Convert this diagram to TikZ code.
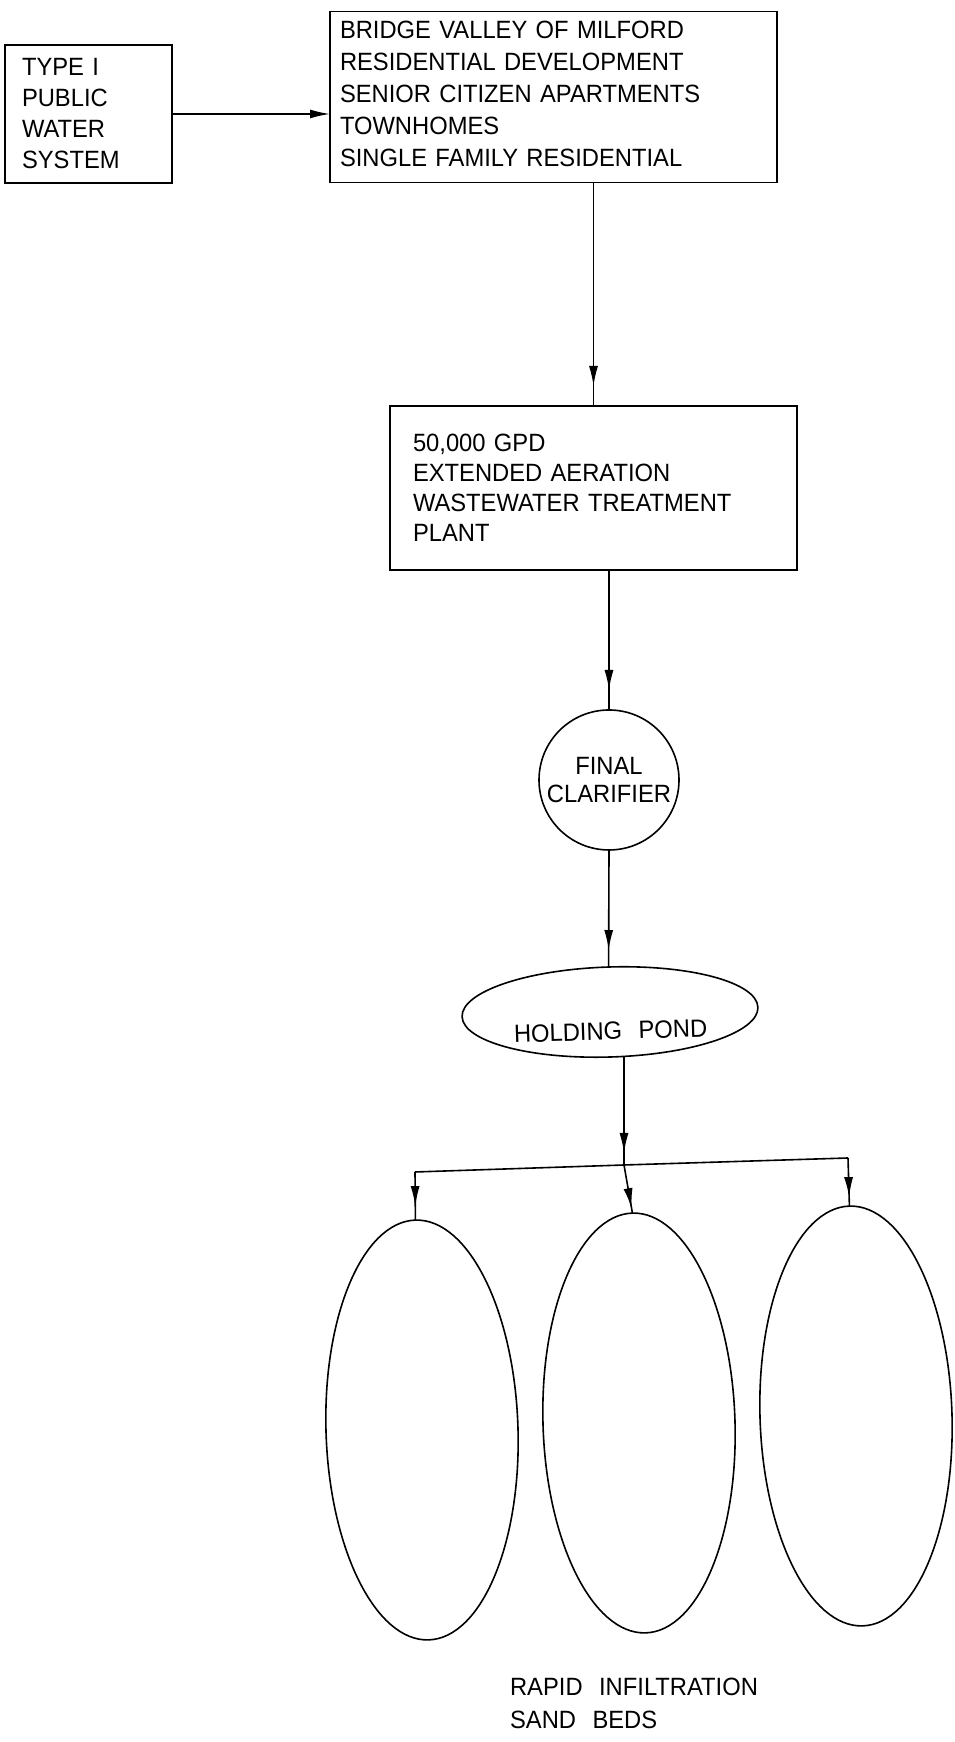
\documentclass[tikz,border=0pt]{standalone}
\usepackage{fontspec}
\setmainfont{Liberation Sans}[WordSpace=2.5, FakeStretch=0.95]
\usetikzlibrary{arrows.meta,shapes.geometric,decorations.markings}
\begin{document}
\begin{tikzpicture}[x=1pt,y=1pt,
  every node/.style={font=\fontsize{25pt}{32pt}\selectfont, line width=1.6pt, outer sep=0pt},
  box/.style={draw, rectangle, align=left, inner ysep=0pt},
  tilted/.style={rotate=1.8},
  flow/.style={line width=1.6pt},
  tipend/.style={-{Latex[length=20pt,width=9pt]}},
  tipat/.style={postaction={decorate}, decoration={markings, mark=at position #1 with {\arrow{Latex[length=20pt,width=9pt]}}}},
  bed/.style={draw, ellipse, tilted, minimum width=192pt, minimum height=420pt, inner sep=0pt}
]
\useasboundingbox (0,0) rectangle (955,1742);

\node[box, text width=133pt, inner xsep=17pt, minimum height=138pt, font=\fontsize{25pt}{31pt}\selectfont] (t1) at (88.5,1628) {TYPE I\\PUBLIC\\WATER\\SYSTEM};

\node[box, text width=427pt, inner xsep=10pt, minimum height=171pt] (top) at (553.5,1645) {BRIDGE VALLEY OF MILFORD\\RESIDENTIAL DEVELOPMENT\\SENIOR CITIZEN APARTMENTS\\TOWNHOMES\\SINGLE FAMILY RESIDENTIAL\rule[-6pt]{0pt}{0pt}};

\node[box, text width=361pt, inner xsep=23pt, minimum height=164pt, font=\fontsize{25pt}{30pt}\selectfont] (plant) at (593.5,1254) {50,000 GPD\\EXTENDED AERATION\\WASTEWATER TREATMENT\\PLANT};

\node[draw, circle, minimum size=140pt, inner sep=0pt, align=center, font=\fontsize{25pt}{28pt}\selectfont] (clar) at (609,962) {FINAL\\CLARIFIER};

\node[draw, ellipse, tilted, minimum width=296pt, minimum height=90pt, inner sep=0pt, text height=56pt, text depth=0.5pt] (pond) at (610,730) {HOLDING POND};

\node[bed] (bedL) at (422,312) {};
\node[bed] (bedM) at (639,319) {};
\node[bed] (bedR) at (856,326) {};

\node[align=left, font=\fontsize{25pt}{33pt}\selectfont] (sand) at (634,38.5) {RAPID INFILTRATION\\SAND BEDS};

\coordinate (j) at (624,577);
\coordinate (jl) at (415,570);
\coordinate (jr) at (848,584);

\draw[flow, tipend] (t1.east) -- (t1.east -| top.west);
\draw[flow, tipat=-20pt] (plant.north |- top.south) -- (plant.north);
\draw[flow, tipat=-20pt] (clar.north |- plant.south) -- (clar.north);
\draw[flow, tipat=-17pt] (clar.south) -- (pond.north);
\draw[flow, tipat=-12pt] ([yshift=1pt]j |- pond.south) -- (j);
\draw[flow] (jl) -- (j) -- (jr);
\draw[flow, tipat=-14pt] (jl) -- (bedL.north);
\draw[flow, tipat=-5pt] (j) -- (bedM.north);
\draw[flow, tipat=-9pt] (jr) -- (bedR.north);
\end{tikzpicture}
\end{document}
